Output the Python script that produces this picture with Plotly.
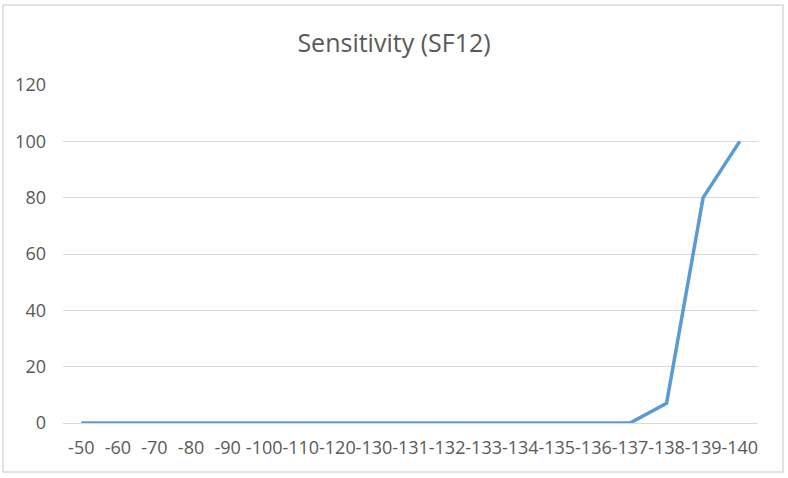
import plotly.graph_objects as go

categories = ["-50", "-60", "-70", "-80", "-90", "-100", "-110", "-120", "-130",
              "-131", "-132", "-133", "-134", "-135", "-136", "-137", "-138", "-139", "-140"]
sensitivity = [0, 0, 0, 0, 0, 0, 0, 0, 0, 0, 0, 0, 0, 0, 0, 0, 7, 80, 100]
y_ticks = [0, 20, 40, 60, 80, 100, 120]

W, H = 788, 478
L, R, T, B = 63, 30, 85, 55
pw, ph = W - L - R, H - T - B

def px_x(px):
    return (px - L) / pw

def px_y(py):
    return (H - B - py) / ph

fig = go.Figure()
fig.add_trace(go.Scatter(
    x=categories, y=sensitivity, mode="lines",
    line=dict(color="#5B9BD5", width=3.5),
    hoverinfo="x+y", showlegend=False,
))

fig.update_layout(
    width=W, height=H,
    margin=dict(l=L, r=R, t=T, b=B),
    paper_bgcolor="white", plot_bgcolor="white",
    font=dict(family="Open Sans, Liberation Sans, sans-serif", color="#595959"),
    title=dict(text="Sensitivity (SF12)", x=0.5, xanchor="center",
               y=1 - 43 / H, yanchor="middle",
               font=dict(size=25, color="#595959")),
    xaxis=dict(type="category", showgrid=False, zeroline=False,
               showline=False, ticks="", tickfont=dict(size=18),
               range=[-0.5, len(categories) - 0.5], tickangle=0,
               ticklabelstandoff=12, fixedrange=True),
    yaxis=dict(range=[0, 120], tickvals=y_ticks, showgrid=True,
               gridcolor="#D9D9D9", gridwidth=1, zeroline=True,
               zerolinecolor="#D9D9D9", zerolinewidth=1, showline=False,
               ticks="", tickfont=dict(size=18), ticklabelstandoff=16,
               fixedrange=True),
    shapes=[dict(type="rect", xref="paper", yref="paper",
                 x0=px_x(3), x1=px_x(783), y0=px_y(472), y1=px_y(5),
                 line=dict(color="#D9D9D9", width=1.5), fillcolor="rgba(0,0,0,0)",
                 layer="below")],
)

fig.write_html("out.html", config={"displayModeBar": False},
               post_script="document.body.style.margin='0';document.body.style.overflow='hidden';window.dispatchEvent(new Event('resize'));")
